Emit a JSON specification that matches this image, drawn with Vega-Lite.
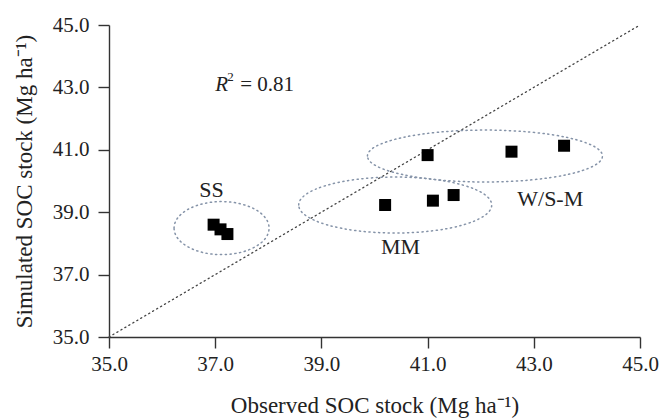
{
  "$schema": "https://vega.github.io/schema/vega-lite/v6.json",
  "width": 531,
  "height": 312,
  "autosize": {"type": "none"},
  "padding": {"left": 109, "top": 25, "right": 20, "bottom": 81},
  "background": "white",
  "config": {
    "view": {"stroke": null},
    "font": "Liberation Serif",
    "axis": {
      "grid": false,
      "labelFlush": false,
      "domainColor": "#333",
      "tickColor": "#333",
      "tickSize": 11,
      "domainWidth": 1.4,
      "tickWidth": 1.4,
      "labelFont": "Liberation Serif",
      "labelFontSize": 21,
      "labelColor": "#222",
      "titleFont": "Liberation Serif",
      "titleFontSize": 23,
      "titleFontWeight": "normal",
      "titleColor": "#222"
    }
  },
  "datasets": {
    "points": [
      {"group": "SS", "observed": 36.97, "simulated": 38.6},
      {"group": "SS", "observed": 37.1, "simulated": 38.45},
      {"group": "SS", "observed": 37.23, "simulated": 38.3},
      {"group": "MM", "observed": 40.2, "simulated": 39.23},
      {"group": "MM", "observed": 41.1, "simulated": 39.37},
      {"group": "MM", "observed": 41.49, "simulated": 39.55},
      {"group": "W/S-M", "observed": 41.0, "simulated": 40.83},
      {"group": "W/S-M", "observed": 42.58, "simulated": 40.94},
      {"group": "W/S-M", "observed": 43.57, "simulated": 41.13}
    ],
    "diag": [{"x": 35, "y": 35, "x2": 45, "y2": 45}],
    "centers": [
      {"group": "SS", "cx": 37.12, "cy": 38.49},
      {"group": "MM", "cx": 40.39, "cy": 39.23},
      {"group": "W/S-M", "cx": 42.08, "cy": 40.8}
    ],
    "labels": [
      {"label": "SS", "lx": 36.93, "ly": 39.7},
      {"label": "MM", "lx": 40.49, "ly": 37.9},
      {"label": "W/S-M", "lx": 43.31, "ly": 39.42}
    ],
    "r2": [{"tx": 37.0, "ty": 42.885}]
  },
  "layer": [
    {
      "data": {"name": "diag"},
      "mark": {"type": "rule", "color": "#444", "strokeWidth": 1.3, "strokeDash": [1.2, 3.4], "strokeCap": "round"},
      "encoding": {
        "x": {"field": "x", "type": "quantitative", "scale": {"domain": [35, 45], "nice": false, "zero": false},
              "axis": {"values": [35, 37, 39, 41, 43, 45], "format": ".1f", "title": "Observed SOC stock (Mg ha⁻¹)", "labelPadding": 5, "titlePadding": 20}},
        "y": {"field": "y", "type": "quantitative", "scale": {"domain": [35, 45], "nice": false, "zero": false},
              "axis": {"values": [35, 37, 39, 41, 43, 45], "format": ".1f", "title": "Simulated SOC stock (Mg ha⁻¹)", "labelPadding": 9, "titlePadding": 16}},
        "x2": {"field": "x2"},
        "y2": {"field": "y2"}
      }
    },
    {
      "data": {"name": "centers"},
      "transform": [{"filter": "datum.group === 'SS'"}],
      "mark": {"type": "point", "filled": false, "color": "#8593a8", "strokeWidth": 1.5, "strokeDash": [1.2, 3.6], "strokeCap": "round",
               "size": 9025, "opacity": 1,
               "shape": "M -1 0 C -1 -0.308 -0.5523 -0.558 0 -0.558 C 0.5523 -0.558 1 -0.308 1 0 C 1 0.308 0.5523 0.558 0 0.558 C -0.5523 0.558 -1 0.308 -1 0 Z"},
      "encoding": {
        "x": {"field": "cx", "type": "quantitative"},
        "y": {"field": "cy", "type": "quantitative"}
      }
    },
    {
      "data": {"name": "centers"},
      "transform": [{"filter": "datum.group === 'MM'"}],
      "mark": {"type": "point", "filled": false, "color": "#8593a8", "strokeWidth": 1.5, "strokeDash": [1.2, 3.6], "strokeCap": "round",
               "size": 37249, "opacity": 1,
               "shape": "M -1 0 C -1 -0.160 -0.5523 -0.29 0 -0.29 C 0.5523 -0.29 1 -0.160 1 0 C 1 0.160 0.5523 0.29 0 0.29 C -0.5523 0.29 -1 0.160 -1 0 Z"},
      "encoding": {
        "x": {"field": "cx", "type": "quantitative"},
        "y": {"field": "cy", "type": "quantitative"}
      }
    },
    {
      "data": {"name": "centers"},
      "transform": [{"filter": "datum.group === 'W/S-M'"}],
      "mark": {"type": "point", "filled": false, "color": "#8593a8", "strokeWidth": 1.5, "strokeDash": [1.2, 3.6], "strokeCap": "round",
               "size": 55225, "opacity": 1,
               "shape": "M -1 0 C -1 -0.122 -0.5523 -0.221 0 -0.221 C 0.5523 -0.221 1 -0.122 1 0 C 1 0.122 0.5523 0.221 0 0.221 C -0.5523 0.221 -1 0.122 -1 0 Z"},
      "encoding": {
        "x": {"field": "cx", "type": "quantitative"},
        "y": {"field": "cy", "type": "quantitative"}
      }
    },
    {
      "data": {"name": "points"},
      "mark": {"type": "point", "shape": "square", "filled": true, "color": "#000", "size": 144, "opacity": 1},
      "encoding": {
        "x": {"field": "observed", "type": "quantitative"},
        "y": {"field": "simulated", "type": "quantitative"}
      }
    },
    {
      "data": {"name": "labels"},
      "mark": {"type": "text", "font": "Liberation Serif", "fontSize": 22, "color": "#222", "align": "center", "baseline": "middle"},
      "encoding": {
        "x": {"field": "lx", "type": "quantitative"},
        "y": {"field": "ly", "type": "quantitative"},
        "text": {"field": "label"}
      }
    },
    {
      "data": {"name": "r2"},
      "mark": {"type": "text", "font": "Liberation Serif", "fontSize": 21, "fontStyle": "italic", "color": "#222", "align": "left", "baseline": "alphabetic", "text": "R"},
      "encoding": {
        "x": {"field": "tx", "type": "quantitative"},
        "y": {"field": "ty", "type": "quantitative"}
      }
    },
    {
      "data": {"name": "r2"},
      "mark": {"type": "text", "font": "Liberation Serif", "fontSize": 13, "color": "#222", "align": "left", "baseline": "alphabetic", "text": "2", "dx": 12, "dy": -10},
      "encoding": {
        "x": {"field": "tx", "type": "quantitative"},
        "y": {"field": "ty", "type": "quantitative"}
      }
    },
    {
      "data": {"name": "r2"},
      "mark": {"type": "text", "font": "Liberation Serif", "fontSize": 21, "color": "#222", "align": "left", "baseline": "alphabetic", "text": "= 0.81", "dx": 25},
      "encoding": {
        "x": {"field": "tx", "type": "quantitative"},
        "y": {"field": "ty", "type": "quantitative"}
      }
    }
  ]
}
